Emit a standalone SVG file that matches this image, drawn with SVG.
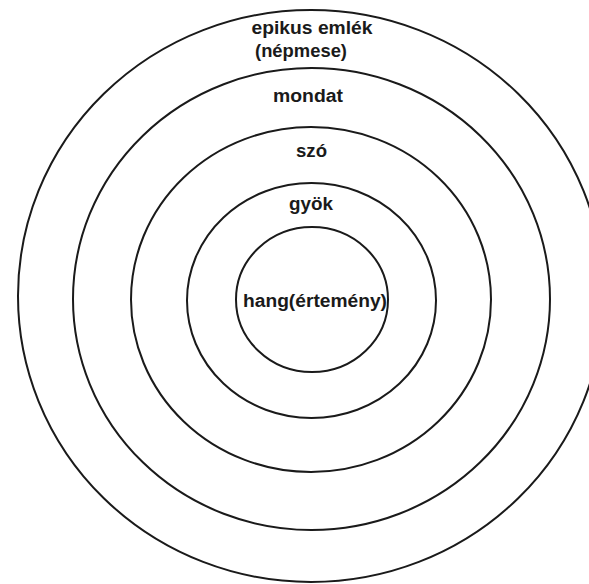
<svg xmlns="http://www.w3.org/2000/svg" width="589" height="584" viewBox="0 0 589 584">
<style>
.ring{fill:none;stroke:#1a1a1a;stroke-width:2}
.lbl{font-family:"Liberation Sans",Arial,sans-serif;font-weight:bold;font-size:18px;fill:#1a1a1a;text-anchor:middle}
</style>
<rect width="589" height="584" fill="#ffffff"/>
<g id="epikus">
<ellipse class="ring" cx="311" cy="296" rx="293" ry="286"/>
<text class="lbl" x="312" y="34" textLength="121" lengthAdjust="spacingAndGlyphs">epikus emlék</text>
<text class="lbl" x="301" y="57" textLength="92" lengthAdjust="spacingAndGlyphs">(népmese)</text>
</g>
<g id="mondat">
<ellipse class="ring" cx="311.5" cy="299" rx="238.5" ry="231"/>
<text class="lbl" x="308" y="102" textLength="70" lengthAdjust="spacingAndGlyphs">mondat</text>
</g>
<g id="szo">
<ellipse class="ring" cx="311" cy="299.5" rx="180" ry="172.5"/>
<text class="lbl" x="311.5" y="157" textLength="31" lengthAdjust="spacingAndGlyphs">szó</text>
</g>
<g id="gyok">
<ellipse class="ring" cx="311.5" cy="300.5" rx="124.5" ry="117.5"/>
<text class="lbl" x="311" y="210" textLength="44" lengthAdjust="spacingAndGlyphs">gyök</text>
</g>
<g id="hang">
<ellipse class="ring" cx="312" cy="299.5" rx="76" ry="72.5"/>
<text class="lbl" x="315" y="307" textLength="144" lengthAdjust="spacingAndGlyphs">hang(értemény)</text>
</g>
</svg>
